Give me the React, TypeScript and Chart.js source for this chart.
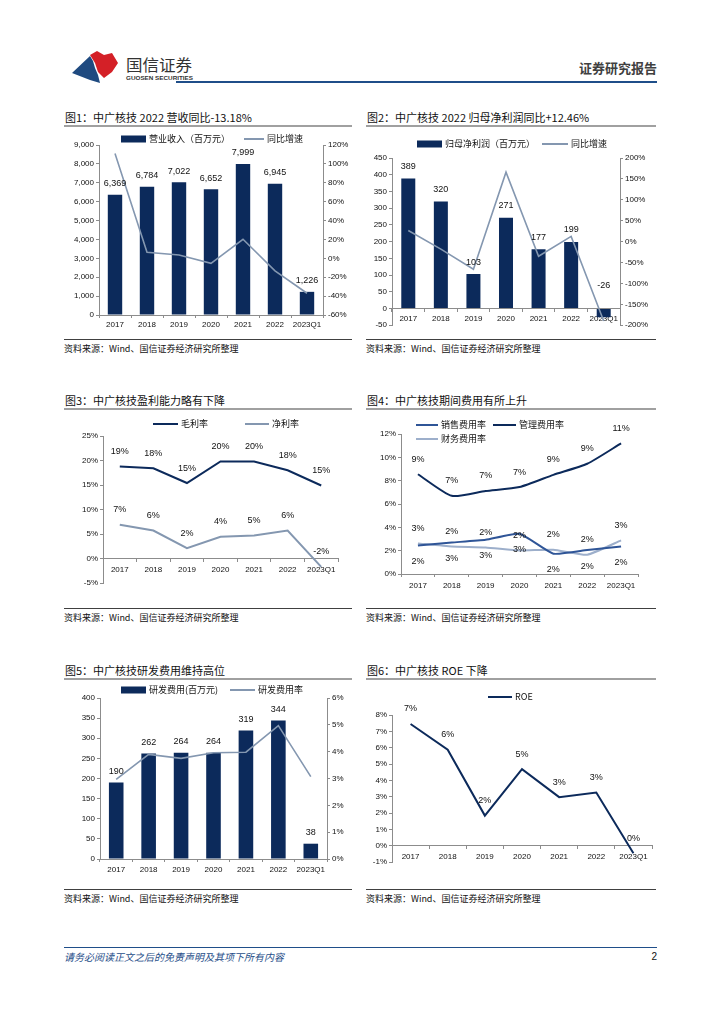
import React, { useEffect, useRef } from 'react';
import { Chart, registerables } from 'chart.js';
Chart.register(...registerables);

// ---------------- data ----------------
const years = ['2017', '2018', '2019', '2020', '2021', '2022', '2023Q1'];
const revenue = [6369, 6784, 7022, 6652, 7999, 6945, 1226];
const revenueYoY = [111, 6.5, 3.5, -5.3, 20.2, -13.18, -37];
const netProfit = [389, 320, 103, 271, 177, 199, -26];
const netProfitYoY = [26.6, -18, -66, 166, -35, 12.46, -190];
const grossMargin = [18.8, 18.4, 15.4, 19.8, 19.8, 18.0, 14.9];
const netMargin = [6.9, 5.7, 2.1, 4.45, 4.7, 5.7, -1.7];
const sellingRate = [2.45, 2.7, 2.93, 3.45, 1.74, 2.05, 2.36];
const adminRate = [8.55, 6.7, 7.12, 7.45, 8.5, 9.45, 11.2];
const financeRate = [2.62, 2.36, 2.28, 2.02, 2.08, 1.65, 2.88];
const rdExpense = [190, 262, 264, 264, 319, 344, 38];
const rdRate = [2.97, 3.9, 3.75, 3.96, 3.98, 4.97, 3.07];
const roe = [7.45, 5.87, 1.84, 4.68, 2.97, 3.25, -0.47];

// ---------------- styles ----------------
const CJK = '"Noto Sans CJK SC", sans-serif';
const NUM = '"Liberation Sans", Arial, sans-serif';
const NAVY = '#0c2a5b';
const GREYBLUE = '#8497b0';
const MIDBLUE = '#2f5597';
const LIGHTBLUE = '#9dafcb';
const AXIS = '#8c8c8c';

const fmtThousands = (v: number) => v.toLocaleString('en-US');
const fmtPct = (v: number) => String(Math.round(v)) + '%';

type LabelSpec = { ds: number; fmt: (v: number) => string; dy: number; negDy?: number; bar?: boolean };
const labelPlugin = (specs: LabelSpec[]) => ({
  id: 'valueLabels',
  afterDatasetsDraw(chart: any) {
    const ctx = chart.ctx;
    ctx.save();
    ctx.font = '9px ' + NUM;
    ctx.fillStyle = '#111';
    ctx.textAlign = 'center';
    ctx.textBaseline = 'middle';
    specs.forEach((s) => {
      const meta = chart.getDatasetMeta(s.ds);
      const data = chart.data.datasets[s.ds].data as number[];
      meta.data.forEach((el: any, i: number) => {
        const v = data[i];
        let y: number;
        if (s.bar) {
          if (v < 0) y = el.base - (s.negDy ?? s.dy);
          else y = Math.min(el.y, el.base) - s.dy;
        } else {
          y = el.y + s.dy;
        }
        ctx.fillText(s.fmt(v), el.x, y);
      });
    });
    ctx.restore();
  },
});

type LegendItem = { kind: 'bar' | 'line'; color: string; text: string; x: number; y: number; w: number };
const legendPlugin = (items: LegendItem[]) => ({
  id: 'customLegend',
  afterDraw(chart: any) {
    const ctx = chart.ctx;
    ctx.save();
    ctx.font = '9px ' + CJK;
    ctx.textBaseline = 'middle';
    ctx.textAlign = 'left';
    items.forEach((it) => {
      if (it.kind === 'bar') {
        ctx.fillStyle = it.color;
        ctx.fillRect(it.x, it.y - 3.5, it.w, 7);
      } else {
        ctx.strokeStyle = it.color;
        ctx.lineWidth = 2;
        ctx.beginPath();
        ctx.moveTo(it.x, it.y);
        ctx.lineTo(it.x + it.w, it.y);
        ctx.stroke();
      }
      ctx.fillStyle = '#111';
      ctx.fillText(it.text, it.x + it.w + 3, it.y);
    });
    ctx.restore();
  },
});

const yAxis = (o: { min: number; max: number; step: number; width: number; position: 'left' | 'right'; cb: (v: number) => string }) => ({
  type: 'linear',
  position: o.position,
  min: o.min,
  max: o.max,
  ticks: { stepSize: o.step, callback: (v: any) => o.cb(Number(v)), font: { family: NUM, size: 8 }, color: '#111', padding: 2, autoSkip: false },
  grid: { display: true, drawOnChartArea: false, drawTicks: true, tickLength: 3, color: AXIS },
  border: { display: true, color: AXIS },
  afterFit: (a: any) => { a.width = o.width; },
});

const xAxis = (o: { height?: number; atZero?: boolean; padding?: number }) => ({
  type: 'category',
  position: o.atZero ? { y: 0 } : 'bottom',
  offset: true,
  ticks: { font: { family: NUM, size: 8 }, color: '#111', padding: o.padding ?? 2, maxRotation: 0, autoSkip: false },
  grid: { display: true, drawOnChartArea: false, drawTicks: true, tickLength: 3, offset: true, color: AXIS },
  border: { display: true, color: AXIS },
  afterFit: (a: any) => { if (o.height !== undefined) a.height = o.height; },
});

const baseOptions = (padding: any, scales: any) => ({
  responsive: false,
  maintainAspectRatio: false,
  animation: false,
  layout: { padding },
  plugins: { legend: { display: false }, tooltip: { enabled: false }, title: { display: false } },
  scales,
});

type Box = { x: number; y: number; w: number; h: number };

// ---------------- chart configs ----------------
const chart1 = (): any => ({
  type: 'bar',
  data: {
    labels: years,
    datasets: [
      { type: 'line', label: '同比增速', data: revenueYoY, yAxisID: 'y1', borderColor: GREYBLUE, borderWidth: 1.6, pointRadius: 0, tension: 0, order: 0 },
      { type: 'bar', label: '营业收入（百万元）', data: revenue, yAxisID: 'y', backgroundColor: NAVY, categoryPercentage: 1, barPercentage: 0.45, order: 1 },
    ],
  },
  options: baseOptions({ left: 0, right: 0, top: 17, bottom: 0 }, {
    x: xAxis({ height: 17 }),
    y: yAxis({ min: 0, max: 9000, step: 1000, width: 35, position: 'left', cb: fmtThousands }),
    y1: yAxis({ min: -60, max: 120, step: 20, width: 29, position: 'right', cb: (v) => v + '%' }),
  }),
  plugins: [
    labelPlugin([{ ds: 1, fmt: fmtThousands, dy: 11, bar: true }]),
    legendPlugin([
      { kind: 'bar', color: NAVY, text: '营业收入（百万元）', x: 57, y: 11, w: 25 },
      { kind: 'line', color: GREYBLUE, text: '同比增速', x: 180, y: 11, w: 20 },
    ]),
  ],
});

const chart2 = (): any => ({
  type: 'bar',
  data: {
    labels: years,
    datasets: [
      { type: 'line', label: '同比增速', data: netProfitYoY, yAxisID: 'y1', borderColor: GREYBLUE, borderWidth: 1.6, pointRadius: 0, tension: 0, order: 0 },
      { type: 'bar', label: '归母净利润（百万元）', data: netProfit, yAxisID: 'y', backgroundColor: NAVY, categoryPercentage: 1, barPercentage: 0.43, order: 1 },
    ],
  },
  options: baseOptions({ left: 0, right: 0, top: 30, bottom: 6 }, {
    x: xAxis({ atZero: true, padding: 3 }),
    y: yAxis({ min: -50, max: 450, step: 50, width: 26, position: 'left', cb: (v) => String(v) }),
    y1: yAxis({ min: -200, max: 200, step: 50, width: 36, position: 'right', cb: (v) => v + '%' }),
  }),
  plugins: [
    labelPlugin([{ ds: 1, fmt: (v) => String(v), dy: 12, negDy: 23, bar: true }]),
    legendPlugin([
      { kind: 'bar', color: NAVY, text: '归母净利润（百万元）', x: 51, y: 16, w: 25 },
      { kind: 'line', color: GREYBLUE, text: '同比增速', x: 176, y: 16, w: 26 },
    ]),
  ],
});

const chart3 = (): any => ({
  type: 'line',
  data: {
    labels: years,
    datasets: [
      { label: '毛利率', data: grossMargin, borderColor: NAVY, borderWidth: 2, pointRadius: 0, tension: 0 },
      { label: '净利率', data: netMargin, borderColor: GREYBLUE, borderWidth: 2, pointRadius: 0, tension: 0 },
    ],
  },
  options: baseOptions({ left: 0, right: 14, top: 24, bottom: 17 }, {
    x: xAxis({ atZero: true, padding: 3 }),
    y: yAxis({ min: -5, max: 25, step: 5, width: 39, position: 'left', cb: (v) => v + '%' }),
  }),
  plugins: [
    labelPlugin([
      { ds: 0, fmt: fmtPct, dy: -15 },
      { ds: 1, fmt: fmtPct, dy: -15 },
    ]),
    legendPlugin([
      { kind: 'line', color: NAVY, text: '毛利率', x: 89, y: 12, w: 25 },
      { kind: 'line', color: GREYBLUE, text: '净利率', x: 181, y: 12, w: 24 },
    ]),
  ],
});

const chart4 = (): any => ({
  type: 'line',
  data: {
    labels: years,
    datasets: [
      { label: '销售费用率', data: sellingRate, borderColor: MIDBLUE, borderWidth: 2, pointRadius: 0, tension: 0.15 },
      { label: '管理费用率', data: adminRate, borderColor: NAVY, borderWidth: 2, pointRadius: 0, tension: 0.2 },
      { label: '财务费用率', data: financeRate, borderColor: LIGHTBLUE, borderWidth: 2, pointRadius: 0, tension: 0.15 },
    ],
  },
  options: baseOptions({ left: 0, right: 18, top: 22, bottom: 6 }, {
    x: xAxis({ height: 20, padding: 4 }),
    y: yAxis({ min: 0, max: 12, step: 2, width: 35, position: 'left', cb: (v) => v + '%' }),
  }),
  plugins: [
    labelPlugin([
      { ds: 0, fmt: fmtPct, dy: 16 },
      { ds: 1, fmt: fmtPct, dy: -15 },
      { ds: 2, fmt: fmtPct, dy: -15 },
    ]),
    legendPlugin([
      { kind: 'line', color: MIDBLUE, text: '销售费用率', x: 50, y: 13, w: 22 },
      { kind: 'line', color: NAVY, text: '管理费用率', x: 127, y: 13, w: 23 },
      { kind: 'line', color: LIGHTBLUE, text: '财务费用率', x: 50, y: 27, w: 22 },
    ]),
  ],
});

const chart5 = (): any => ({
  type: 'bar',
  data: {
    labels: years,
    datasets: [
      { type: 'line', label: '研发费用率', data: rdRate, yAxisID: 'y1', borderColor: GREYBLUE, borderWidth: 1.6, pointRadius: 0, tension: 0, order: 0 },
      { type: 'bar', label: '研发费用(百万元)', data: rdExpense, yAxisID: 'y', backgroundColor: NAVY, categoryPercentage: 1, barPercentage: 0.45, order: 1 },
    ],
  },
  options: baseOptions({ left: 0, right: 0, top: 16, bottom: 0 }, {
    x: xAxis({ height: 21, padding: 3 }),
    y: yAxis({ min: 0, max: 400, step: 50, width: 36, position: 'left', cb: (v) => String(v) }),
    y1: yAxis({ min: 0, max: 6, step: 1, width: 25, position: 'right', cb: (v) => v + '%' }),
  }),
  plugins: [
    labelPlugin([{ ds: 1, fmt: (v) => String(v), dy: 11, bar: true }]),
    legendPlugin([
      { kind: 'bar', color: NAVY, text: '研发费用(百万元)', x: 57, y: 8, w: 25 },
      { kind: 'line', color: GREYBLUE, text: '研发费用率', x: 166, y: 8, w: 25 },
    ]),
  ],
});

const chart6 = (): any => ({
  type: 'line',
  data: {
    labels: years,
    datasets: [{ label: 'ROE', data: roe, borderColor: NAVY, borderWidth: 2, pointRadius: 0, tension: 0 }],
  },
  options: baseOptions({ left: 0, right: 4, top: 33, bottom: 18 }, {
    x: xAxis({ atZero: true, padding: 3 }),
    y: yAxis({ min: -1, max: 8, step: 1, width: 26, position: 'left', cb: (v) => v + '%' }),
  }),
  plugins: [
    labelPlugin([{ ds: 0, fmt: fmtPct, dy: -15 }]),
    legendPlugin([{ kind: 'line', color: NAVY, text: 'ROE', x: 122, y: 15, w: 24 }]),
  ],
});

// ---------------- components ----------------
function ChartCanvas({ box, make }: { box: Box; make: () => any }) {
  const ref = useRef<HTMLCanvasElement>(null);
  useEffect(() => {
    const chart = new Chart(ref.current as HTMLCanvasElement, make());
    return () => chart.destroy();
  }, []);
  return (
    <canvas
      ref={ref}
      width={box.w}
      height={box.h}
      style={{ position: 'absolute', left: box.x, top: box.y, width: box.w, height: box.h }}
    />
  );
}

function Title({ x, y, w, text }: { x: number; y: number; w: number; text: string }) {
  return (
    <>
      <div style={{ position: 'absolute', left: x + 1, top: y - 8, fontFamily: CJK, fontSize: 11, lineHeight: '16px', color: '#111', whiteSpace: 'nowrap' }}>{text}</div>
      <div style={{ position: 'absolute', left: x, top: y + 8, width: w, height: 2, background: '#a0a0a0' }} />
    </>
  );
}

function Source({ x, y, w }: { x: number; y: number; w: number }) {
  return (
    <>
      <div style={{ position: 'absolute', left: x, top: y, width: w, height: 1, background: '#404040' }} />
      <div style={{ position: 'absolute', left: x, top: y + 4, fontFamily: CJK, fontSize: 9, lineHeight: '12px', color: '#111', whiteSpace: 'nowrap' }}>资料来源：Wind、国信证券经济研究所整理</div>
    </>
  );
}

function Logo() {
  return (
    <svg width={140} height={44} style={{ position: 'absolute', left: 64, top: 44 }}>
      <path d="M8 29 L26 12 L29 17 L31 24 L34 31 L36 39 L26 36 Z" fill="#1f4a80" />
      <path d="M26 11 L33 7 L40 11 L48 9 L54 19 L48 28 L40 34 L34 28 L31 19 Z" fill="#d42027" />
      <text x={62} y={27} fontFamily={CJK} fontSize={16} fill="#333" textLength={66} lengthAdjust="spacingAndGlyphs">国信证券</text>
      <text x={62} y={36} fontFamily={NUM} fontSize={6} fontWeight="bold" fill="#333" textLength={67} lengthAdjust="spacingAndGlyphs">GUOSEN SECURITIES</text>
    </svg>
  );
}

export default function App() {
  const L = 64, R = 366, LW = 288, RW = 290;
  return (
    <div style={{ position: 'absolute', left: 0, top: 0, width: 724, height: 1024, background: '#fff', overflow: 'hidden' }}>
      <Logo />
      <div style={{ position: 'absolute', right: 67, top: 60, fontFamily: CJK, fontSize: 13, fontWeight: 'bold', lineHeight: '16px', color: '#404040' }}>证券研究报告</div>
      <div style={{ position: 'absolute', left: 176, top: 81, width: 481, height: 2, background: '#1f4e89' }} />

      <Title x={L} y={117} w={LW} text="图1：中广核技 2022 营收同比-13.18%" />
      <Title x={R} y={117} w={RW} text="图2：中广核技 2022 归母净利润同比+12.46%" />
      <ChartCanvas box={{ x: L, y: 128, w: LW, h: 204 }} make={chart1} />
      <ChartCanvas box={{ x: R, y: 128, w: RW, h: 204 }} make={chart2} />
      <Source x={L} y={339} w={LW} />
      <Source x={R} y={339} w={RW} />

      <Title x={L} y={400} w={LW} text="图3：中广核技盈利能力略有下降" />
      <Title x={R} y={400} w={RW} text="图4：中广核技期间费用有所上升" />
      <ChartCanvas box={{ x: L, y: 412, w: LW, h: 188 }} make={chart3} />
      <ChartCanvas box={{ x: R, y: 412, w: RW, h: 188 }} make={chart4} />
      <Source x={L} y={608} w={LW} />
      <Source x={R} y={608} w={RW} />

      <Title x={L} y={670} w={LW} text="图5：中广核技研发费用维持高位" />
      <Title x={R} y={670} w={RW} text="图6：中广核技 ROE 下降" />
      <ChartCanvas box={{ x: L, y: 682, w: LW, h: 198 }} make={chart5} />
      <ChartCanvas box={{ x: R, y: 682, w: RW, h: 198 }} make={chart6} />
      <Source x={L} y={889} w={LW} />
      <Source x={R} y={889} w={RW} />

      <div style={{ position: 'absolute', left: 64, top: 947, width: 593, height: 1, background: '#1f4e89' }} />
      <div style={{ position: 'absolute', left: 64, top: 950, fontFamily: CJK, fontSize: 10, fontStyle: 'italic', lineHeight: '13px', color: '#1f4e89', whiteSpace: 'nowrap' }}>请务必阅读正文之后的免责声明及其项下所有内容</div>
      <div style={{ position: 'absolute', right: 67, top: 950, fontFamily: NUM, fontSize: 10, lineHeight: '13px', color: '#111' }}>2</div>
    </div>
  );
}
